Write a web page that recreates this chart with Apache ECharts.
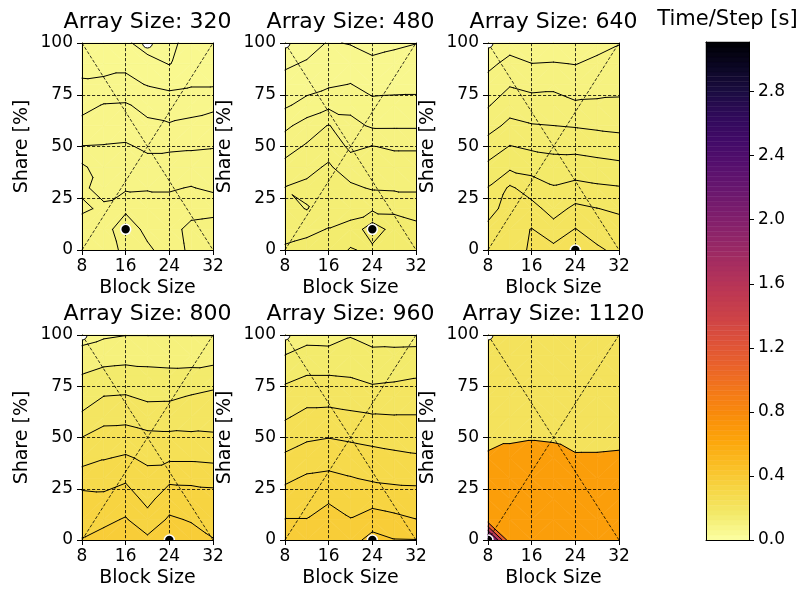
<!DOCTYPE html>
<html>
<head>
<meta charset="utf-8">
<script src="https://cdn.jsdelivr.net/npm/echarts@6/dist/echarts.min.js"></script>
<style>
  html, body { margin: 0; padding: 0; background: #ffffff; }
  #chart { width: 805px; height: 593px; }
</style>
</head>
<body>
<div id="chart"></div>
<script>
// Grid of measurements: block size (x) and share in percent (y)
const BLOCK_SIZES = [8, 12, 16, 20, 24, 28, 32];
const SHARES = [0, 10, 20, 30, 40, 50, 60, 70, 80, 90, 100];
const ARRAY_SIZES = [320, 480, 640, 800, 960, 1120];
const X_TICKS = [8, 16, 24, 32];
const Y_TICKS = [0, 25, 50, 75, 100];
const CBAR_TICKS = [0, 0.4, 0.8, 1.2, 1.6, 2.0, 2.4, 2.8];

// Time per step [s]; one row per share (0 -> 100), one column per block size (8 -> 32)
const time320 = [
  [0.102, 0.104, 0.113, 0.112, 0.105, 0.112, 0.113],
  [0.103, 0.106, 0.116, 0.107, 0.106, 0.113, 0.114],
  [0.099, 0.101, 0.108, 0.106, 0.104, 0.106, 0.107],
  [0.101, 0.098, 0.0985, 0.099, 0.099, 0.1005, 0.098],
  [0.102, 0.094, 0.095, 0.093, 0.094, 0.094, 0.095],
  [0.0902, 0.0905, 0.091, 0.0885, 0.0885, 0.089, 0.0895],
  [0.083, 0.085, 0.086, 0.082, 0.081, 0.082, 0.084],
  [0.077, 0.0805, 0.081, 0.077, 0.0745, 0.077, 0.078],
  [0.0715, 0.0725, 0.0725, 0.0695, 0.068, 0.069, 0.069],
  [0.0665, 0.066, 0.068, 0.064, 0.0595, 0.066, 0.065],
  [0.061, 0.064, 0.062, 0.055, 0.058, 0.063, 0.064]
];
const time480 = [
  [0.162, 0.164, 0.166, 0.182, 0.175, 0.178, 0.172],
  [0.1548, 0.1573, 0.1605, 0.1657, 0.192, 0.1714, 0.1662],
  [0.1474, 0.139, 0.1541, 0.1527, 0.156, 0.1556, 0.1508],
  [0.1405, 0.144, 0.1482, 0.1436, 0.1382, 0.1373, 0.1373],
  [0.1262, 0.135, 0.1424, 0.130, 0.1291, 0.1282, 0.1282],
  [0.1119, 0.1225, 0.1329, 0.116, 0.1205, 0.1178, 0.1178],
  [0.0956, 0.1086, 0.1212, 0.106, 0.0974, 0.0975, 0.0975],
  [0.077, 0.0867, 0.095, 0.0943, 0.0846, 0.085, 0.085],
  [0.067, 0.072, 0.0769, 0.0805, 0.0737, 0.0748, 0.0753],
  [0.057, 0.062, 0.0692, 0.0695, 0.0639, 0.0661, 0.0675],
  [0.047, 0.052, 0.0615, 0.059, 0.054, 0.057, 0.0596]
];
const time640 = [
  [0.245, 0.240, 0.253, 0.257, 0.262, 0.255, 0.242],
  [0.231, 0.238, 0.251, 0.235, 0.251, 0.236, 0.236],
  [0.216, 0.235, 0.2338, 0.215, 0.2306, 0.2255, 0.2208],
  [0.201, 0.229, 0.2128, 0.202, 0.2077, 0.204, 0.2017],
  [0.181, 0.195, 0.191, 0.1859, 0.1871, 0.184, 0.1812],
  [0.161, 0.176, 0.171, 0.1685, 0.1678, 0.1646, 0.1615],
  [0.141, 0.156, 0.1516, 0.1502, 0.1484, 0.146, 0.1441],
  [0.123, 0.140, 0.135, 0.135, 0.1284, 0.129, 0.1294],
  [0.109, 0.123, 0.118, 0.1196, 0.1133, 0.116, 0.1182],
  [0.094, 0.107, 0.1003, 0.1014, 0.0993, 0.1047, 0.1086],
  [0.080, 0.090, 0.082, 0.083, 0.085, 0.093, 0.099]
];
const time800 = [
  [0.402, 0.417, 0.420, 0.411, 0.440, 0.422, 0.402],
  [0.383, 0.389, 0.404, 0.367, 0.407, 0.396, 0.383],
  [0.365, 0.361, 0.374, 0.337, 0.375, 0.371, 0.365],
  [0.329, 0.330, 0.343, 0.315, 0.340, 0.339, 0.3375],
  [0.279, 0.297, 0.306, 0.291, 0.292, 0.292, 0.2875],
  [0.2505, 0.268, 0.271, 0.262, 0.260, 0.258, 0.256],
  [0.208, 0.236, 0.237, 0.226, 0.226, 0.230, 0.233],
  [0.179, 0.2005, 0.203, 0.191, 0.192, 0.203, 0.2125],
  [0.153, 0.166, 0.169, 0.164, 0.162, 0.164, 0.173],
  [0.114, 0.130, 0.134, 0.133, 0.131, 0.130, 0.129],
  [0.085, 0.093, 0.099, 0.099, 0.099, 0.099, 0.099]
];
const time960 = [
  [0.430, 0.430, 0.440, 0.428, 0.470, 0.452, 0.451],
  [0.401, 0.401, 0.424, 0.402, 0.420, 0.412, 0.401],
  [0.371, 0.381, 0.393, 0.378, 0.383, 0.374, 0.370],
  [0.341, 0.357, 0.362, 0.353, 0.344, 0.340, 0.339],
  [0.309, 0.326, 0.330, 0.324, 0.317, 0.311, 0.306],
  [0.277, 0.293, 0.299, 0.293, 0.287, 0.282, 0.279],
  [0.245, 0.264, 0.266, 0.260, 0.255, 0.253, 0.253],
  [0.218, 0.233, 0.233, 0.228, 0.219, 0.222, 0.225],
  [0.188, 0.201, 0.201, 0.198, 0.187, 0.191, 0.197],
  [0.151, 0.167, 0.166, 0.172, 0.161, 0.162, 0.163],
  [0.112, 0.133, 0.131, 0.147, 0.134, 0.132, 0.133]
];
const time1120 = [
  [3.11, 0.64, 0.63, 0.64, 0.63, 0.63, 0.64],
  [0.64, 0.63, 0.63, 0.63, 0.63, 0.63, 0.63],
  [0.63, 0.63, 0.62, 0.63, 0.63, 0.62, 0.63],
  [0.63, 0.62, 0.62, 0.63, 0.62, 0.62, 0.62],
  [0.62, 0.62, 0.62, 0.62, 0.58, 0.58, 0.61],
  [0.28, 0.449, 0.48, 0.46, 0.28, 0.29, 0.32],
  [0.23, 0.235, 0.24, 0.235, 0.235, 0.24, 0.24],
  [0.22, 0.225, 0.23, 0.225, 0.225, 0.23, 0.23],
  [0.215, 0.22, 0.225, 0.22, 0.22, 0.225, 0.225],
  [0.21, 0.215, 0.22, 0.215, 0.215, 0.22, 0.22],
  [0.20, 0.21, 0.215, 0.21, 0.21, 0.215, 0.22]
];
const TIME_TABLES = [time320, time480, time640, time800, time960, time1120];

// ---- colour map (inferno, reversed for the data) ----
const INFERNO = ['#000004', '#0b0724', '#1b0c41', '#300a5b', '#420a68', '#57106e', '#6a176e',
  '#7f1e6c', '#932667', '#a82e5f', '#bc3754', '#cc4248', '#dd513a', '#e9622a', '#f37819',
  '#f98c0a', '#fca50a', '#fabf25', '#f6d746', '#f3eb6c', '#fcffa4'];
function hexRgb(h) { return [1, 3, 5].map(k => parseInt(h.substr(k, 2), 16)); }
const INFERNO_RGB = INFERNO.map(hexRgb);
function infernoR(t) {
  const s = 1 - Math.min(1, Math.max(0, t));
  const n = INFERNO_RGB.length - 1;
  const f = s * n;
  const k = Math.min(n - 1, Math.floor(f));
  const u = f - k;
  const a = INFERNO_RGB[k], b = INFERNO_RGB[k + 1];
  const c = a.map((v, m) => Math.round(v + (b[m] - v) * u));
  return 'rgb(' + c.join(',') + ')';
}

const V_MIN = 0;
const V_MAX = Math.max(...TIME_TABLES.flat(2));

// Nice contour levels (up to 8 intervals, steps 1/2/2.5/5/10)
function niceLevels(lo, hi) {
  const nbins = 8;
  const raw = (hi - lo) / nbins;
  const scale = Math.pow(10, Math.floor(Math.log10(raw)));
  for (const m of [1, 2, 2.5, 5, 10, 20]) {
    const step = m * scale;
    if (step < raw - 1e-12) continue;
    const a = Math.floor(lo / step + 1e-9), b = Math.ceil(hi / step - 1e-9);
    if (b - a <= nbins) {
      const out = [];
      for (let k = a; k <= b; k++) out.push(+(k * step).toFixed(10));
      return out;
    }
  }
}
const FILL_LEVELS = TIME_TABLES.map(Z => {
  const v = Z.flat();
  return niceLevels(Math.min(...v), Math.max(...v));
});
const LINE_LEVELS = TIME_TABLES.map((Z, p) => {
  const v = Z.flat(); const lo = Math.min(...v), hi = Math.max(...v);
  return FILL_LEVELS[p].filter(l => l > lo && l < hi);
});
// filled bands are normalised over the full span of all band edges
const FILL_NORM_MAX = Math.max(...FILL_LEVELS.flat());
const BAND_COLOURS = FILL_LEVELS.map(L => L.slice(0, -1).map((l, k) =>
  infernoR(((l + L[k + 1]) / 2 - V_MIN) / (FILL_NORM_MAX - V_MIN))));

// ---- contouring: each grid cell split into two triangles ----
function cellTriangles(Z, i, j) {
  const x0 = BLOCK_SIZES[i], x1 = BLOCK_SIZES[i + 1], y0 = SHARES[j], y1 = SHARES[j + 1];
  const a = [x0, y0, Z[j][i]], b = [x1, y0, Z[j][i + 1]];
  const c = [x1, y1, Z[j + 1][i + 1]], d = [x0, y1, Z[j + 1][i]];
  if (Math.abs(b[2] - d[2]) <= Math.abs(a[2] - c[2])) return [[a, b, d], [b, c, d]];
  return [[a, b, c], [a, c, d]];
}
function clipPoly(poly, level, keepAbove) {
  const out = [];
  for (let k = 0; k < poly.length; k++) {
    const p = poly[k], q = poly[(k + 1) % poly.length];
    const pin = keepAbove ? p[2] >= level : p[2] <= level;
    const qin = keepAbove ? q[2] >= level : q[2] <= level;
    if (pin) out.push(p);
    if (pin !== qin) {
      const t = (level - p[2]) / (q[2] - p[2]);
      out.push([p[0] + t * (q[0] - p[0]), p[1] + t * (q[1] - p[1]), level]);
    }
  }
  return out;
}
function fillRenderer(p) {
  const Z = TIME_TABLES[p], L = FILL_LEVELS[p], C = BAND_COLOURS[p];
  return function (params, api) {
    const i = api.value(2), j = api.value(3);
    const children = [];
    for (const tri of cellTriangles(Z, i, j)) {
      const vs = tri.map(q => q[2]);
      const tmin = Math.min(...vs), tmax = Math.max(...vs);
      for (let k = 0; k < L.length - 1; k++) {
        if (L[k + 1] < tmin || L[k] > tmax) continue;
        let poly = clipPoly(tri, L[k], true);
        if (poly.length < 3) continue;
        poly = clipPoly(poly, L[k + 1], false);
        if (poly.length < 3) continue;
        children.push({
          type: 'polygon', silent: true,
          shape: { points: poly.map(q => api.coord([q[0], q[1]])) },
          style: { fill: C[k], stroke: C[k], lineWidth: 0.6 }
        });
      }
    }
    return { type: 'group', children };
  };
}
function lineRenderer(p) {
  const Z = TIME_TABLES[p], L = LINE_LEVELS[p];
  return function (params, api) {
    const i = api.value(2), j = api.value(3);
    const children = [];
    for (const tri of cellTriangles(Z, i, j)) {
      for (const lev of L) {
        const pts = [];
        for (let k = 0; k < 3; k++) {
          const a = tri[k], b = tri[(k + 1) % 3];
          if ((a[2] - lev) * (b[2] - lev) < 0) {
            const t = (lev - a[2]) / (b[2] - a[2]);
            pts.push(api.coord([a[0] + t * (b[0] - a[0]), a[1] + t * (b[1] - a[1])]));
          }
        }
        if (pts.length === 2) {
          children.push({
            type: 'line', silent: true,
            shape: { x1: pts[0][0], y1: pts[0][1], x2: pts[1][0], y2: pts[1][1] },
            style: { stroke: '#000', lineWidth: 1, lineCap: 'round' }
          });
        }
      }
    }
    return { type: 'group', children };
  };
}

// ---- layout ----
const FONT = 'DejaVu Sans';
const COL_LEFT = [82, 285, 488];
const PLOT_W = 131;
const ROW_TOP = [43, 335];
const PLOT_H = [207, 205];
const CBAR = { left: 706, top: 42, width: 43, height: 498 };
const DASH = [3.2, 1.8];

const grids = [], xAxes = [], yAxes = [], series = [], graphics = [];

ARRAY_SIZES.forEach((size, p) => {
  const col = p % 3, row = Math.floor(p / 3);
  grids.push({ left: COL_LEFT[col], top: ROW_TOP[row], width: PLOT_W, height: PLOT_H[row] });
});
grids.push({ left: CBAR.left, top: CBAR.top, width: CBAR.width, height: CBAR.height });

const tickText = { color: '#000', fontSize: 17, fontFamily: FONT };
const nameText = { color: '#000', fontSize: 19, fontFamily: FONT };
ARRAY_SIZES.forEach((size, p) => {
  xAxes.push({
    gridIndex: p, type: 'value', min: X_TICKS[0], max: X_TICKS[X_TICKS.length - 1],
    interval: X_TICKS[1] - X_TICKS[0], z: 3,
    axisLine: { show: true, onZero: false, lineStyle: { color: '#000', width: 1 } },
    axisTick: { show: true, length: 5, lineStyle: { color: '#000', width: 1 } },
    axisLabel: Object.assign({ margin: 8 }, tickText),
    splitLine: { show: true, lineStyle: { color: '#000', width: 0.8, type: DASH } },
    name: 'Block Size', nameLocation: 'middle', nameGap: 29, nameTextStyle: nameText
  });
  yAxes.push({
    gridIndex: p, type: 'value', min: Y_TICKS[0], max: Y_TICKS[Y_TICKS.length - 1],
    interval: Y_TICKS[1] - Y_TICKS[0], z: 3,
    axisLine: { show: true, onZero: false, lineStyle: { color: '#000', width: 1 } },
    axisTick: { show: true, length: 5, lineStyle: { color: '#000', width: 1 } },
    axisLabel: Object.assign({ margin: 9 }, tickText),
    splitLine: { show: true, lineStyle: { color: '#000', width: 0.8, type: DASH } },
    name: 'Share [%]', nameLocation: 'middle', nameGap: 50, nameTextStyle: nameText
  });
});
// frame edges (top and right)
const frameOnly = {
  axisLine: { show: true, onZero: false, lineStyle: { color: '#000', width: 1 } },
  axisTick: { show: false }, axisLabel: { show: false }, splitLine: { show: false }, z: 5
};
ARRAY_SIZES.forEach((size, p) => {
  xAxes.push(Object.assign({ gridIndex: p, type: 'value', min: 8, max: 32, position: 'top' }, frameOnly));
  yAxes.push(Object.assign({ gridIndex: p, type: 'value', min: 0, max: 100, position: 'right' }, frameOnly));
});
// colour bar axes
const CB = ARRAY_SIZES.length;
xAxes.push(Object.assign({ gridIndex: CB, type: 'value', min: 0, max: 1, position: 'bottom' }, frameOnly));
xAxes.push(Object.assign({ gridIndex: CB, type: 'value', min: 0, max: 1, position: 'top' }, frameOnly));
yAxes.push({
  gridIndex: CB, type: 'value', min: V_MIN, max: V_MAX, position: 'right', z: 5,
  axisLine: { show: true, onZero: false, lineStyle: { color: '#000', width: 1 } },
  axisTick: { show: true, length: 5, customValues: CBAR_TICKS, lineStyle: { color: '#000', width: 1 } },
  axisLabel: Object.assign({ margin: 9, customValues: CBAR_TICKS, formatter: v => v.toFixed(1) }, tickText),
  splitLine: { show: false }
});
yAxes.push(Object.assign({ gridIndex: CB, type: 'value', min: V_MIN, max: V_MAX, position: 'left' }, frameOnly));

// ---- series ----
const CELLS = [];
for (let i = 0; i < BLOCK_SIZES.length - 1; i++) {
  for (let j = 0; j < SHARES.length - 1; j++) {
    CELLS.push([(BLOCK_SIZES[i] + BLOCK_SIZES[i + 1]) / 2, (SHARES[j] + SHARES[j + 1]) / 2, i, j]);
  }
}
function extremePoint(Z, useMax) {
  let best = null;
  Z.forEach((row, j) => row.forEach((v, i) => {
    if (best === null || (useMax ? v > best[2] : v < best[2])) best = [BLOCK_SIZES[i], SHARES[j], v];
  }));
  return [best[0], best[1]];
}
function markerRenderer(fill, stroke, width) {
  return function (params, api) {
    const c = api.coord([api.value(0), api.value(1)]);
    return {
      type: 'circle', silent: true,
      shape: { cx: c[0], cy: c[1], r: 5 },
      style: { fill: fill, stroke: stroke, lineWidth: width }
    };
  };
}
const xMin = BLOCK_SIZES[0], xMax = BLOCK_SIZES[BLOCK_SIZES.length - 1];
const yMin = SHARES[0], yMax = SHARES[SHARES.length - 1];

ARRAY_SIZES.forEach((size, p) => {
  const axes = { xAxisIndex: p, yAxisIndex: p };
  series.push(Object.assign({
    type: 'custom', z: 1, silent: true, renderItem: fillRenderer(p), data: CELLS,
    encode: { x: 0, y: 1 }
  }, axes));
  series.push(Object.assign({
    type: 'custom', z: 2, silent: true, renderItem: lineRenderer(p), data: CELLS,
    encode: { x: 0, y: 1 }
  }, axes));
  [[[xMin, yMin], [xMax, yMax]], [[xMin, yMax], [xMax, yMin]]].forEach(seg => {
    series.push(Object.assign({
      type: 'line', z: 3, silent: true, symbol: 'none', data: seg,
      lineStyle: { color: '#000', width: 0.8, type: DASH }
    }, axes));
  });
  // fastest setting (white) and slowest setting (black)
  series.push(Object.assign({
    type: 'custom', z: 4, silent: true, clip: true,
    data: [extremePoint(TIME_TABLES[p], false)], encode: { x: 0, y: 1 },
    renderItem: markerRenderer('#ffffff', '#000000', 1)
  }, axes));
  series.push(Object.assign({
    type: 'custom', z: 4, silent: true, clip: true,
    data: [extremePoint(TIME_TABLES[p], true)], encode: { x: 0, y: 1 },
    renderItem: markerRenderer('#000000', '#ffffff', 1.6)
  }, axes));

  const col = p % 3, row = Math.floor(p / 3);
  graphics.push({
    type: 'text', x: COL_LEFT[col] + PLOT_W / 2, y: ROW_TOP[row] - 21,
    style: { text: 'Array Size: ' + size, textAlign: 'center', textVerticalAlign: 'middle',
      font: '22px "' + FONT + '"', fill: '#000' }
  });
});

// colour bar bands
const CBAR_BANDS = 100;
const CBAR_DATA = [];
for (let k = 0; k < CBAR_BANDS; k++) {
  const lo = V_MIN + (V_MAX - V_MIN) * k / CBAR_BANDS, hi = V_MIN + (V_MAX - V_MIN) * (k + 1) / CBAR_BANDS;
  CBAR_DATA.push([0.5, (lo + hi) / 2, lo, hi]);
}
series.push({
  type: 'custom', xAxisIndex: 2 * CB, yAxisIndex: 2 * CB, z: 1, silent: true,
  data: CBAR_DATA, encode: { x: 0, y: 1 },
  renderItem: function (params, api) {
    const p0 = api.coord([0, api.value(2)]), p1 = api.coord([1, api.value(3)]);
    const col = infernoR((api.value(1) - V_MIN) / (V_MAX - V_MIN));
    return {
      type: 'rect', silent: true,
      shape: { x: p0[0], y: p1[1], width: p1[0] - p0[0], height: p0[1] - p1[1] },
      style: { fill: col, stroke: col, lineWidth: 0.5 }
    };
  }
});
graphics.push({
  type: 'text', x: CBAR.left + CBAR.width / 2, y: 20,
  style: { text: 'Time/Step [s]', textAlign: 'center', textVerticalAlign: 'middle',
    font: '21px "' + FONT + '"', fill: '#000' }
});

const chart = echarts.init(document.getElementById('chart'), null, { renderer: 'canvas' });
chart.setOption({
  animation: false,
  backgroundColor: '#ffffff',
  grid: grids,
  xAxis: xAxes,
  yAxis: yAxes,
  series: series,
  graphic: { elements: graphics }
});
</script>
</body>
</html>
